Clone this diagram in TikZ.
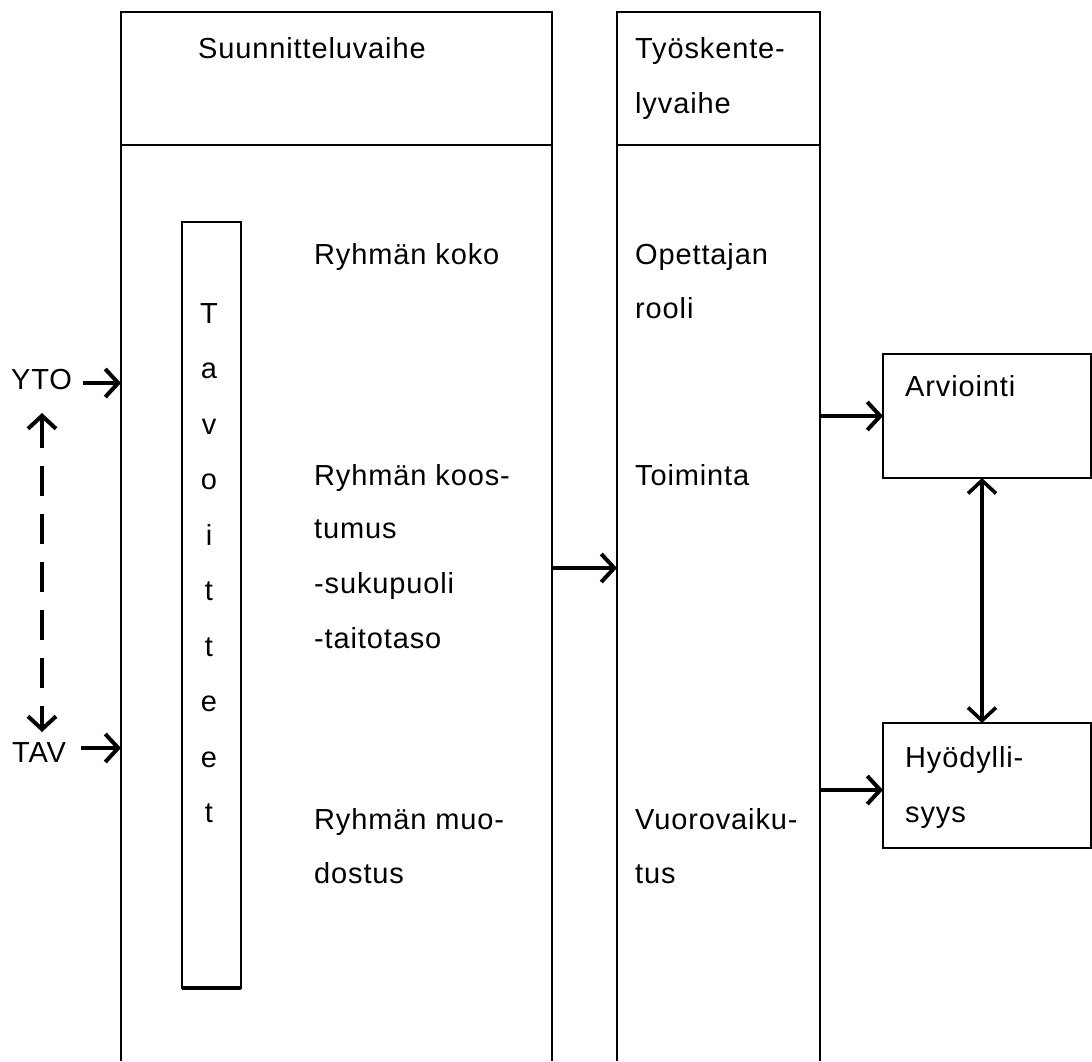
\documentclass[tikz,border=0pt]{standalone}
\usepackage{fontspec}
\setmainfont{Liberation Sans}[LetterSpace=3]
\usetikzlibrary{arrows.meta}
\newcommand\dfs{\fontsize{29}{35}\selectfont}
\begin{document}
\begin{tikzpicture}[x=1pt,y=-1pt,
  frame/.style={line width=2.8pt},
  lbl/.style={anchor=base west, inner sep=0pt, font=\dfs},
  colbox/.style={anchor=north west, inner sep=0pt, outer sep=0pt},
  tip/.style={-{Straight Barb[length=13pt,width=28pt]}, line width=4pt},
  tip2/.style={{Straight Barb[length=13pt,width=28pt]}-{Straight Barb[length=13pt,width=28pt]}, line width=3.6pt},
  dasharrow/.style={tip2, line width=4pt, dash pattern=on 30pt off 18pt}]
\useasboundingbox (0,0) rectangle (1092,1061);
% columns
\node[colbox, minimum width=431pt, minimum height=1049pt] (colL) at (121,12) {};
\node[colbox, minimum width=203pt, minimum height=1049pt] (colM) at (617,12) {};
\draw[frame] (colL.south west) |- (colL.north east) -- (colL.south east);
\draw[frame] (colM.south west) |- (colM.north east) -- (colM.south east);
\coordinate (divy) at (0,145);
\draw[frame] (colL.west |- divy) -- (colL.east |- divy);
\draw[frame] (colM.west |- divy) -- (colM.east |- divy);
% headers
\node[lbl] (hdrL) at (198,58) {Suunnitteluvaihe};
\node[lbl] (hdrM1) at (635,58) {Työskente-};
\node[lbl] (hdrM2) at (635,113) {lyvaihe};
% Tavoitteet box
\node[colbox, draw, frame, minimum width=59pt, minimum height=766pt] (tavbox) at (182,222) {};
\draw[line width=4.5pt] (tavbox.south west) -- (tavbox.south east);
\foreach \l [count=\i from 0] in {T,a,v,o,i,t,t,e,e,t}
  \node[font=\dfs, inner sep=0pt, anchor=base] (tv\i) at (209,{323+55.5*\i}) {\l};
% planning texts
\node[lbl] (koko) at (314,264) {Ryhmän koko};
\node[lbl] (koos1) at (314,485) {Ryhmän koos-};
\node[lbl] (koos2) at (314,538) {tumus};
\node[lbl] (koos3) at (314,593) {-sukupuoli};
\node[lbl] (koos4) at (314,648) {-taitotaso};
\node[lbl] (muo1) at (314,829) {Ryhmän muo-};
\node[lbl] (muo2) at (314,883) {dostus};
% working texts
\node[lbl] (ope1) at (635,264) {Opettajan};
\node[lbl] (ope2) at (635,318) {rooli};
\node[lbl] (toim) at (635,485) {Toiminta};
\node[lbl] (vuo1) at (635,829) {Vuorovaiku-};
\node[lbl] (vuo2) at (635,883) {tus};
% right boxes
\node[colbox, draw, frame, minimum width=208pt, minimum height=124pt] (arvbox) at (883,354) {};
\node[lbl] (arvt) at (905,396) {Arviointi};
\node[colbox, draw, frame, minimum width=208pt, minimum height=125pt] (hyobox) at (883,723) {};
\node[lbl] (hyo1) at (905,767) {Hyödylli-};
\node[lbl] (hyo2) at (905,822) {syys};
% left labels
\node[lbl] (yto) at (11,389) {YTO};
\node[lbl] (tav) at (12,762) {TAV};
% connectors
\coordinate (ya) at (83,383);
\draw[tip] (ya) -- (ya -| colL.west);
\coordinate (ta) at (81,748);
\draw[tip] (ta) -- (ta -| colL.west);
\coordinate (ma) at (552,568);
\draw[tip] (ma) -- (ma -| colM.west);
\draw[tip] (arvbox.west -| colM.east) -- (arvbox.west);
\coordinate (ha) at (820,790);
\draw[tip] (ha) -- (ha -| hyobox.west);
\draw[tip2] ([xshift=-5pt]arvbox.south) -- ([xshift=-5pt]hyobox.north);
\coordinate (dtop) at (42,413);
\coordinate (dbot) at (42,732);
\draw[dasharrow] (dtop) -- (dbot);
\end{tikzpicture}
\end{document}
